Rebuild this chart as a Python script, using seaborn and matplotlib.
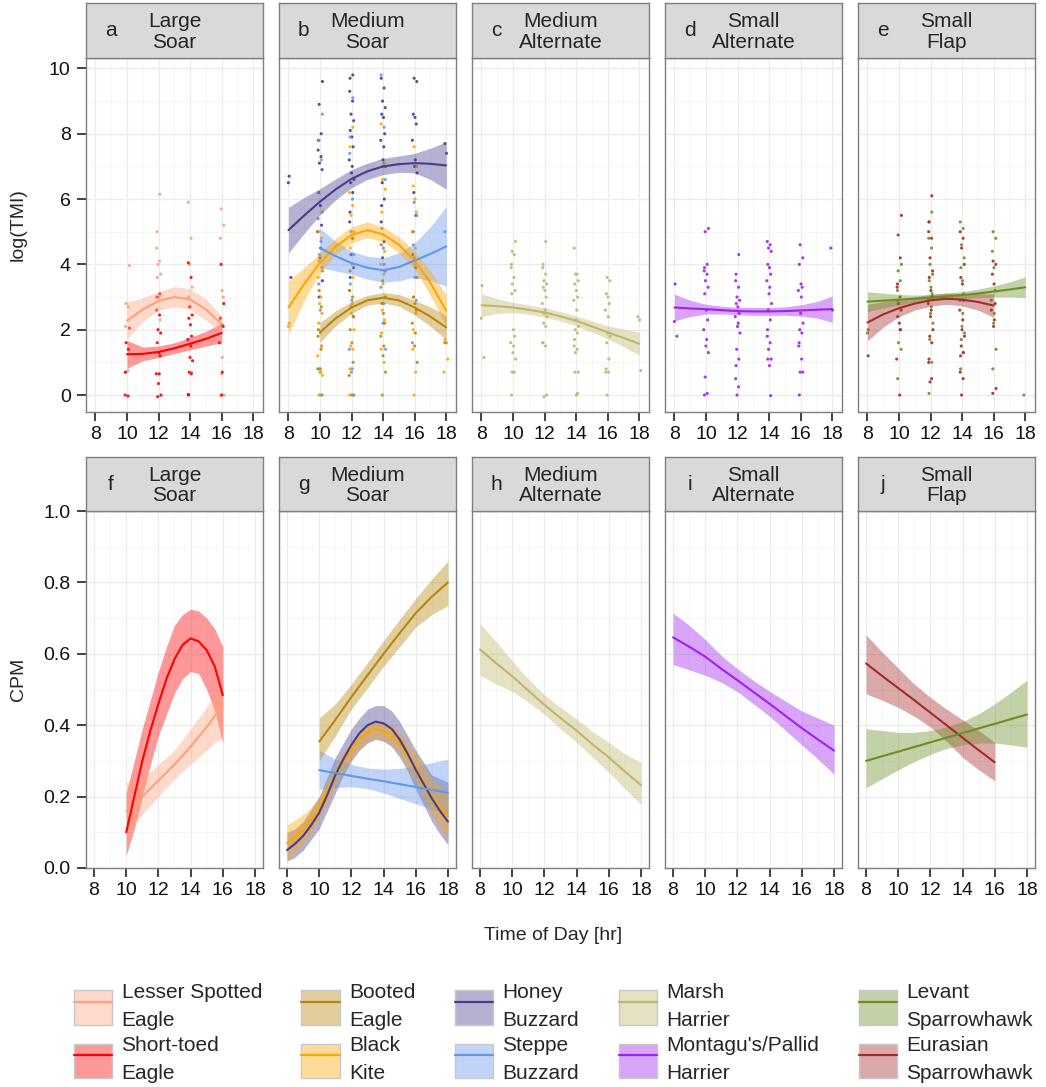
import numpy as np
import pandas as pd
import matplotlib
matplotlib.use("Agg")
import matplotlib.pyplot as plt
import seaborn as sns
from matplotlib.patches import Patch
from matplotlib.lines import Line2D
from matplotlib.colors import to_rgba

na = np.nan
HOURS = [8, 9, 10, 11, 12, 13, 14, 15, 16, 17, 18]

# species keys, legend labels and colours
SPECIES = ["LSE", "STE", "BE", "BK", "HB", "SB", "MH", "MP", "LS", "ES"]
LABELS = ["Lesser Spotted\nEagle", "Short-toed\nEagle", "Booted\nEagle", "Black\nKite",
          "Honey\nBuzzard", "Steppe\nBuzzard", "Marsh\nHarrier", "Montagu's/Pallid\nHarrier",
          "Levant\nSparrowhawk", "Eurasian\nSparrowhawk"]
COLORS = ["#FFA07A", "#FF0000", "#B8860B", "#FFA500", "#483D8B",
          "#6495ED", "#BDB76B", "#A020F0", "#6B8E23", "#A52A2A"]

# facets
PANEL_TITLES = ["Large\nSoar", "Medium\nSoar", "Medium\nAlternate", "Small\nAlternate", "Small\nFlap"]
TOP_LETTERS = ["a", "b", "c", "d", "e"]
BOTTOM_LETTERS = ["f", "g", "h", "i", "j"]
PANEL_SPECIES = [["STE", "LSE"], ["HB", "SB", "BK", "BE"], ["MH"], ["MP"], ["ES", "LS"]]

# log(TMI) smooth fits (hourly, NaN outside observed range)
TMI_FIT = {
    "LSE": [na, na, 2.28, 2.62, 2.88, 3.0, 2.93, 2.62, 2.17, na, na],
    "STE": [na, na, 1.25, 1.26, 1.32, 1.43, 1.57, 1.72, 1.9, na, na],
    "HB": [5.05, 5.5, 5.92, 6.3, 6.62, 6.85, 7.0, 7.07, 7.1, 7.08, 7.03],
    "BK": [2.68, 3.4, 4.05, 4.55, 4.9, 5.05, 4.92, 4.6, 4.12, 3.43, 2.58],
    "SB": [na, na, 4.5, 4.25, 4.04, 3.9, 3.82, 3.92, 4.12, 4.32, 4.55],
    "BE": [na, na, 1.92, 2.35, 2.68, 2.9, 2.98, 2.9, 2.68, 2.4, 2.07],
    "MH": [2.75, 2.72, 2.68, 2.61, 2.53, 2.41, 2.27, 2.1, 1.92, 1.75, 1.57],
    "MP": [2.68, 2.65, 2.63, 2.6, 2.57, 2.56, 2.56, 2.57, 2.59, 2.61, 2.63],
    "LS": [2.86, 2.89, 2.92, 2.95, 2.98, 3.02, 3.06, 3.11, 3.17, 3.23, 3.3],
    "ES": [2.22, 2.47, 2.66, 2.8, 2.9, 2.95, 2.92, 2.85, 2.74, na, na],
}
TMI_LO = {
    "LSE": [na, na, 1.72, 2.25, 2.6, 2.7, 2.62, 2.3, 1.92, na, na],
    "STE": [na, na, 0.82, 1.05, 1.15, 1.27, 1.38, 1.5, 1.6, na, na],
    "HB": [4.35, 4.95, 5.52, 5.98, 6.35, 6.6, 6.75, 6.82, 6.8, 6.6, 6.3],
    "BK": [1.85, 2.9, 3.75, 4.3, 4.65, 4.82, 4.7, 4.35, 3.85, 3.05, 2.1],
    "SB": [na, na, 3.9, 3.8, 3.7, 3.55, 3.45, 3.5, 3.6, 3.5, 3.33],
    "BE": [na, na, 1.62, 2.12, 2.5, 2.75, 2.82, 2.72, 2.45, 2.1, 1.7],
    "MH": [2.4, 2.5, 2.52, 2.47, 2.38, 2.27, 2.12, 1.93, 1.72, 1.48, 1.22],
    "MP": [2.27, 2.4, 2.48, 2.48, 2.46, 2.44, 2.44, 2.44, 2.42, 2.36, 2.23],
    "LS": [2.56, 2.66, 2.76, 2.84, 2.88, 2.92, 2.95, 2.98, 3.0, 3.0, 2.98],
    "ES": [1.66, 2.08, 2.4, 2.6, 2.72, 2.78, 2.73, 2.6, 2.38, na, na],
}
TMI_HI = {
    "LSE": [na, na, 2.84, 2.98, 3.16, 3.32, 3.25, 2.95, 2.42, na, na],
    "STE": [na, na, 1.67, 1.47, 1.5, 1.6, 1.76, 1.95, 2.2, na, na],
    "HB": [5.75, 6.05, 6.32, 6.62, 6.9, 7.1, 7.25, 7.32, 7.4, 7.56, 7.75],
    "BK": [3.5, 3.9, 4.35, 4.8, 5.15, 5.3, 5.15, 4.85, 4.4, 3.8, 3.05],
    "SB": [na, na, 5.1, 4.7, 4.4, 4.25, 4.2, 4.35, 4.65, 5.15, 5.77],
    "BE": [na, na, 2.22, 2.58, 2.86, 3.05, 3.14, 3.08, 2.9, 2.7, 2.44],
    "MH": [3.1, 2.95, 2.84, 2.75, 2.68, 2.55, 2.42, 2.27, 2.12, 2.02, 1.92],
    "MP": [3.09, 2.9, 2.78, 2.72, 2.68, 2.68, 2.68, 2.7, 2.76, 2.86, 3.03],
    "LS": [3.16, 3.12, 3.08, 3.06, 3.08, 3.12, 3.17, 3.24, 3.34, 3.46, 3.62],
    "ES": [2.78, 2.86, 2.92, 3.0, 3.08, 3.12, 3.11, 3.1, 3.1, na, na],
}

# CPM fits
CPM_FIT = {
    "LSE": [na, na, 0.16, 0.2, 0.245, 0.29, 0.34, 0.395, 0.455, na, na],
    "STE": [na, na, 0.1, 0.3, 0.46, 0.585, 0.643, 0.61, 0.484, na, na],
    "HB": [0.05, 0.09, 0.155, 0.26, 0.345, 0.4, 0.405, 0.36, 0.275, 0.195, 0.13],
    "BK": [0.07, 0.11, 0.17, 0.26, 0.33, 0.38, 0.385, 0.35, 0.28, 0.2, 0.145],
    "SB": [na, na, 0.274, 0.266, 0.258, 0.25, 0.243, 0.235, 0.227, 0.219, 0.211],
    "BE": [na, na, 0.354, 0.415, 0.479, 0.54, 0.6, 0.658, 0.714, 0.76, 0.8],
    "MH": [0.612, 0.574, 0.537, 0.497, 0.457, 0.42, 0.385, 0.346, 0.31, 0.27, 0.232],
    "MP": [0.646, 0.62, 0.592, 0.558, 0.526, 0.493, 0.46, 0.426, 0.392, 0.36, 0.329],
    "LS": [0.3, 0.313, 0.326, 0.339, 0.352, 0.365, 0.378, 0.391, 0.404, 0.417, 0.43],
    "ES": [0.573, 0.538, 0.504, 0.47, 0.435, 0.4, 0.365, 0.33, 0.296, na, na],
}
CPM_LO = {
    "LSE": [na, na, 0.09, 0.15, 0.2, 0.25, 0.29, 0.33, 0.37, na, na],
    "STE": [na, na, 0.035, 0.2, 0.37, 0.49, 0.55, 0.5, 0.35, na, na],
    "HB": [0.02, 0.05, 0.11, 0.21, 0.3, 0.35, 0.355, 0.31, 0.22, 0.13, 0.065],
    "BK": [0.02, 0.07, 0.14, 0.23, 0.305, 0.355, 0.36, 0.32, 0.24, 0.15, 0.08],
    "SB": [na, na, 0.22, 0.225, 0.228, 0.222, 0.21, 0.195, 0.18, 0.165, 0.15],
    "BE": [na, na, 0.3, 0.37, 0.445, 0.505, 0.565, 0.62, 0.675, 0.71, 0.735],
    "MH": [0.54, 0.515, 0.495, 0.465, 0.43, 0.39, 0.352, 0.31, 0.268, 0.222, 0.178],
    "MP": [0.57, 0.555, 0.54, 0.52, 0.494, 0.46, 0.425, 0.385, 0.345, 0.305, 0.263],
    "LS": [0.225, 0.25, 0.275, 0.298, 0.318, 0.335, 0.345, 0.35, 0.35, 0.345, 0.338],
    "ES": [0.488, 0.47, 0.45, 0.425, 0.395, 0.355, 0.31, 0.275, 0.244, na, na],
}
CPM_HI = {
    "LSE": [na, na, 0.24, 0.25, 0.29, 0.33, 0.39, 0.45, 0.52, na, na],
    "STE": [na, na, 0.21, 0.39, 0.55, 0.68, 0.725, 0.7, 0.62, na, na],
    "HB": [0.1, 0.13, 0.2, 0.31, 0.39, 0.445, 0.455, 0.41, 0.33, 0.26, 0.24],
    "BK": [0.12, 0.15, 0.2, 0.29, 0.355, 0.405, 0.41, 0.38, 0.32, 0.25, 0.21],
    "SB": [na, na, 0.33, 0.305, 0.29, 0.28, 0.277, 0.279, 0.285, 0.295, 0.305],
    "BE": [na, na, 0.42, 0.46, 0.515, 0.575, 0.637, 0.697, 0.755, 0.81, 0.86],
    "MH": [0.684, 0.634, 0.58, 0.53, 0.485, 0.45, 0.418, 0.382, 0.352, 0.32, 0.295],
    "MP": [0.714, 0.68, 0.64, 0.595, 0.558, 0.525, 0.495, 0.467, 0.44, 0.42, 0.4],
    "LS": [0.39, 0.385, 0.38, 0.38, 0.385, 0.395, 0.41, 0.432, 0.46, 0.492, 0.526],
    "ES": [0.653, 0.605, 0.56, 0.515, 0.478, 0.445, 0.415, 0.385, 0.352, na, na],
}
# extra half-hour readings (fit, lo, hi) for the strongly curved CPM fits
CPM_HALF = {
    "STE": {10.5: (0.2, 0.11, 0.3), 11.5: (0.385, 0.29, 0.47), 12.5: (0.53, 0.43, 0.62),
            13.5: (0.625, 0.53, 0.71), 14.5: (0.635, 0.545, 0.72), 15.5: (0.565, 0.44, 0.67)},
    "HB": {8.5: (0.068, 0.03, 0.11), 9.5: (0.12, 0.08, 0.165), 10.5: (0.205, 0.16, 0.255),
           11.5: (0.305, 0.26, 0.35), 12.5: (0.378, 0.33, 0.42), 13.5: (0.41, 0.36, 0.455),
           14.5: (0.39, 0.34, 0.44), 15.5: (0.32, 0.27, 0.37), 16.5: (0.235, 0.175, 0.295),
           17.5: (0.16, 0.095, 0.25)},
    "BK": {8.5: (0.088, 0.045, 0.135), 9.5: (0.135, 0.1, 0.17), 10.5: (0.215, 0.185, 0.245),
           11.5: (0.3, 0.27, 0.325), 12.5: (0.36, 0.335, 0.385), 13.5: (0.39, 0.365, 0.415),
           14.5: (0.37, 0.345, 0.4), 15.5: (0.315, 0.28, 0.35), 16.5: (0.24, 0.195, 0.285),
           17.5: (0.17, 0.115, 0.23)},
}

TMI_POINTS = {
    "LSE": {10: [3.96, 2.8, 2.7, 2.1, 0.7, 0.75],
            12: [6.15, 5.0, 4.5, 4.1, 4.0, 3.7, 3.6, 3.0, 2.3],
            14: [5.9, 4.8, 4.0, 3.3, 3.0, 2.7, 0.7],
            16: [5.7, 5.2, 4.8, 3.2, 3.0, 2.3, 1.15, 0.65, 0.0, -0.02]},
    "STE": {10: [2.05, 1.6, 1.4, 0.7, 0.0, -0.03],
            12: [3.1, 3.0, 2.6, 2.45, 2.0, 1.9, 1.6, 1.3, 1.2, 0.65, 0.65, 0.35, 0.0, -0.05],
            14: [4.05, 3.6, 2.7, 2.45, 2.35, 2.15, 1.8, 1.7, 1.5, 1.15, 1.05, 0.7, 0.65, 0.0, 0.02],
            16: [4.0, 2.8, 2.35, 2.15, 2.1, 1.6, 0.7, 0.0]},
    "HB": {8: [6.7, 6.5, 3.6],
           10: [9.6, 8.9, 8.0, 7.8, 7.5, 7.3, 7.1, 6.9, 6.2, 5.8, 5.2, 5.0, 4.5, 4.2, 3.5, 3.0],
           12: [9.8, 9.7, 9.3, 9.0, 8.6, 8.4, 8.1, 7.9, 7.6, 7.2, 7.0, 6.8, 6.6, 6.5, 6.2,
                5.6, 5.3, 4.8, 4.3, 3.9, 3.6],
           14: [9.7, 9.4, 9.0, 8.8, 8.6, 8.5, 8.0, 7.8, 7.6, 7.2, 7.0, 6.5, 6.0, 5.8, 5.3,
                4.7, 4.2, 3.8],
           16: [9.7, 9.6, 8.6, 8.5, 8.3, 7.8, 7.2, 7.0, 6.8, 6.2, 5.5, 5.0, 4.3, 3.9],
           18: [7.7, 7.4]},
    "SB": {10: [8.6, 7.8, 7.2, 6.2, 5.4, 4.7, 4.3, 3.9, 3.4, 2.6, 1.5, 0.8, 0.7, 0.0],
           12: [9.1, 7.9, 7.4, 6.0, 5.0, 4.3, 3.4, 2.9, 2.4, 1.4, 0.8, 0.7, 0.0],
           14: [9.8, 8.2, 7.0, 6.6, 5.1, 4.5, 3.8, 3.3, 2.8, 2.2, 1.4, 0.0],
           16: [5.9, 5.5, 4.6, 3.6, 2.9, 1.6],
           18: [5.0]},
    "BK": {8: [2.2, 2.1],
           10: [5.6, 5.0, 4.8, 4.1, 3.6, 3.0, 2.8, 2.5, 2.2, 1.9, 1.5, 1.2, 0.8, 0.7, 0.6, 0.0],
           12: [8.2, 7.6, 6.2, 5.8, 5.5, 5.0, 4.5, 4.0, 3.6, 3.2, 2.8, 2.5, 2.0, 1.5, 1.4, 0.8, 0.0],
           14: [8.3, 7.1, 6.6, 6.3, 5.6, 4.9, 4.4, 4.0, 3.7, 3.4, 3.0, 2.6, 2.3, 1.9, 1.4, 1.0, 0.0],
           16: [7.6, 7.0, 6.4, 6.0, 5.6, 5.0, 4.5, 4.0, 3.6, 3.0, 2.5, 2.0, 1.4, 0.7, 0.0],
           18: [1.7, 1.6, 1.1, 0.7]},
    "BE": {10: [3.8, 3.2, 2.7, 2.0, 1.8, 1.4, 0.8, 0.0],
           12: [4.8, 3.8, 3.2, 3.0, 2.7, 2.4, 2.0, 1.6, 1.0, 0.6, 0.0],
           14: [4.6, 4.0, 3.5, 3.0, 2.8, 2.5, 2.2, 1.8, 1.5, 1.2, 0.7],
           16: [4.2, 3.6, 3.0, 2.8, 2.6, 2.2, 1.9, 1.5, 1.0],
           18: [1.6]},
    "MH": {8: [3.35, 2.35, 1.15],
           10: [4.7, 4.4, 4.3, 4.0, 3.9, 3.6, 3.4, 3.2, 3.1, 2.0, 1.8, 1.6, 1.5, 1.3, 1.1, 0.7, 0.7, 0.0],
           12: [4.7, 4.0, 3.9, 3.7, 3.5, 3.4, 3.3, 3.2, 3.0, 2.8, 2.6, 2.5, 2.4, 2.2, 2.1,
                1.6, 1.6, 1.5, -0.05, 0.0],
           14: [4.5, 3.7, 3.7, 3.5, 3.4, 3.2, 3.0, 2.9, 2.6, 2.3, 2.1, 2.0, 1.9, 1.7, 1.5,
                1.4, 1.3, 0.7, 0.7, 0.0, 0.05],
           16: [3.6, 3.5, 3.1, 3.0, 2.8, 2.6, 2.4, 1.9, 1.8, 1.6, 1.1, 0.8, 0.7, 0.7, 0.0],
           18: [2.4, 2.3, 0.75]},
    "MP": {8: [3.4, 2.25, 1.8],
           10: [5.1, 5.0, 4.0, 3.9, 3.8, 3.7, 3.5, 3.3, 3.1, 2.6, 2.3, 2.0, 1.7, 1.5, 1.3, 0.55, 0.05, 0.0],
           12: [4.3, 3.7, 3.5, 3.3, 3.0, 2.9, 2.8, 2.7, 2.5, 2.4, 2.2, 2.1, 1.9, 1.4, 1.1,
                0.9, 0.5, 0.25, 0.0],
           14: [4.7, 4.6, 4.5, 4.4, 4.0, 3.9, 3.7, 3.5, 3.3, 3.1, 2.8, 2.6, 2.3, 2.0, 1.8,
                1.6, 1.4, 1.1, 1.1, 0.9, -0.02],
           16: [4.6, 4.2, 4.0, 3.4, 3.3, 3.2, 3.0, 2.5, 2.2, 2.0, 1.9, 1.6, 1.5, 1.1, 0.7, 0.7, 0.0],
           18: [4.5, 2.6]},
    "LS": {8: [2.0, 1.9],
           10: [4.0, 3.8, 3.5, 3.2, 2.9, 2.0, 1.6, 1.4, 0.5],
           12: [5.6, 5.3, 4.8, 4.5, 4.0, 3.7, 3.5, 3.3, 3.1, 2.9, 2.7, 2.5, 2.2, 1.7, 1.0, 0.05],
           14: [5.3, 5.1, 4.6, 4.2, 3.9, 3.5, 3.1, 2.9, 2.5, 2.1, 1.9, 1.7, 1.3, 0.8],
           16: [5.0, 4.8, 4.4, 3.9, 3.2, 2.9, 2.5, 2.2, 1.4, 0.8],
           18: [0.0]},
    "ES": {8: [1.2],
           10: [5.5, 4.9, 4.2, 3.4, 3.3, 3.0, 2.8, 2.6, 2.4, 2.2, 2.0, 1.1, 0.0],
           12: [6.1, 5.3, 5.0, 4.8, 4.2, 3.8, 3.6, 3.2, 3.0, 2.8, 2.6, 2.4, 2.0, 1.8, 1.6,
                1.1, 1.0, 0.5, 0.4],
           14: [5.0, 4.8, 4.5, 4.0, 3.6, 3.4, 2.9, 2.6, 2.3, 2.0, 1.8, 1.5, 1.3, 1.2, 0.7, 0.5, 0.0],
           16: [4.1, 4.0, 3.7, 3.4, 2.8, 2.6, 2.3, 2.1, 0.2, 0.05]},
}

# ---------------------------------------------------------------------------
palette = dict(zip(SPECIES, COLORS))

rows = []
for metric, fit, lo, hi in [("tmi", TMI_FIT, TMI_LO, TMI_HI), ("cpm", CPM_FIT, CPM_LO, CPM_HI)]:
    for sp in SPECIES:
        for h, f, l, u in zip(HOURS, fit[sp], lo[sp], hi[sp]):
            if not np.isnan(f):
                rows.append(dict(metric=metric, sp=sp, hour=h, fit=f, lo=l, hi=u))
for sp, extra in CPM_HALF.items():
    for h, (f, l, u) in extra.items():
        rows.append(dict(metric="cpm", sp=sp, hour=h, fit=f, lo=l, hi=u))
curves = pd.DataFrame(rows).sort_values(["metric", "sp", "hour"])

# small horizontal jitter so points at the same hour do not overlap
jit = 0.7 * np.array([-0.17, 0.09, -0.05, 0.19, -0.12, 0.03, 0.14, -0.21, 0.06, -0.01, 0.22, -0.08, 0.11, -0.14])
prow = []
for sp, by_hour in TMI_POINTS.items():
    for h, vals in by_hour.items():
        for i, v in enumerate(vals):
            prow.append(dict(sp=sp, hour=h + jit[(i + h) % len(jit)], val=v))
points = pd.DataFrame(prow)

sns.set_theme(style="white")
plt.rcParams["font.family"] = ["Liberation Sans", "DejaVu Sans"]

W, H = 1046, 1087
fig = plt.figure(figsize=(W / 100, H / 100), dpi=100)

LEFTS = [86, 279, 472, 665, 858]
PW = 177
ROWS = [dict(metric="tmi", top=58, h=354, strip=55, letters=TOP_LETTERS,
             ylim=(-0.52, 10.32), yt=np.arange(0, 11, 2), ym=np.arange(1, 11, 2),
             xlim=(7.4, 18.62), fmt="{:.0f}", ylabel="log(TMI)"),
        dict(metric="cpm", top=511, h=357, strip=54, letters=BOTTOM_LETTERS,
             ylim=(0, 1), yt=np.arange(0, 1.01, 0.2), ym=np.arange(0.1, 1.0, 0.2),
             xlim=(7.5, 18.5), fmt="{:.1f}", ylabel="CPM")]

for r in ROWS:
    for j, left in enumerate(LEFTS):
        ax = fig.add_axes([left / W, 1 - (r["top"] + r["h"]) / H, PW / W, r["h"] / H])
        sps = PANEL_SPECIES[j]
        if r["metric"] == "tmi":
            sub = points[points.sp.isin(sps)]
            sns.scatterplot(data=sub, x="hour", y="val", hue="sp", palette=palette,
                            s=5, linewidth=0, alpha=0.9, legend=False, ax=ax, zorder=2)
        cv = curves[(curves.metric == r["metric"]) & (curves.sp.isin(sps))]
        for sp in sps:
            d = cv[cv.sp == sp]
            ax.fill_between(d.hour, d.lo, d.hi, color=palette[sp], alpha=0.4, lw=0, zorder=3)
        sns.lineplot(data=cv, x="hour", y="fit", hue="sp", palette=palette, lw=1.5,
                     estimator=None, legend=False, ax=ax, zorder=4)

        ax.set_xlim(*r["xlim"])
        ax.set_ylim(*r["ylim"])
        ax.set_xticks(range(8, 19, 2))
        ax.set_xticks(range(9, 19, 2), minor=True)
        ax.set_yticks(r["yt"])
        ax.set_yticks(r["ym"], minor=True)
        ax.grid(True, which="major", color="#EBEBEB", lw=0.9, zorder=0)
        ax.grid(True, which="minor", color="#F5F5F5", lw=0.6, zorder=0)
        ax.set_axisbelow(True)
        ax.set_xlabel("")
        ax.set_ylabel("")
        for s in ax.spines.values():
            s.set_color("#7F7F7F")
            s.set_linewidth(1.0)
        ax.tick_params(axis="x", which="major", length=6.5, width=1.3, color="#333333",
                       labelsize=14, labelcolor="#111111", pad=3.5, direction="out", bottom=True)
        ax.tick_params(which="minor", length=0)
        if j == 0:
            ax.set_yticklabels([r["fmt"].format(v) for v in r["yt"]])
            ax.tick_params(axis="y", which="major", length=6.5, width=1.3, color="#333333",
                           labelsize=14, labelcolor="#111111", pad=4.5, direction="out", left=True)
        else:
            ax.tick_params(axis="y", which="major", left=False, labelleft=False)

        # facet strip
        sax = fig.add_axes([left / W, 1 - r["top"] / H, PW / W, r["strip"] / H])
        sax.set_facecolor("#D9D9D9")
        sax.set_xticks([])
        sax.set_yticks([])
        for s in sax.spines.values():
            s.set_color("#7F7F7F")
            s.set_linewidth(1.0)
        sax.text(0.14, 0.5, r["letters"][j], ha="center", va="center", fontsize=15,
                 transform=sax.transAxes)
        sax.text(0.5, 0.47, PANEL_TITLES[j], ha="center", va="center", fontsize=15,
                 linespacing=1.1, transform=sax.transAxes)

    fig.text(18 / W, 1 - (r["top"] + r["h"] / 2 - 10) / H, r["ylabel"], rotation=90,
             ha="center", va="center", fontsize=14)

fig.text(553 / W, 1 - 935 / H, "Time of Day [hr]", ha="center", va="center", fontsize=14)

handles = [(Patch(facecolor=to_rgba(c, 0.4), edgecolor="#C8C8C8", lw=1),
            Line2D([], [], color=c, lw=1.6)) for c in COLORS]
leg = fig.legend(handles, LABELS, ncol=5, loc="upper left",
                 bbox_to_anchor=(74 / W, 1 - 983 / H), frameon=False, fontsize=15,
                 handlelength=1.83, handleheight=2.16, handletextpad=0.45,
                 labelspacing=0.3, columnspacing=1.9, borderpad=0, borderaxespad=0)
for t in leg.get_texts():
    t.set_linespacing(1.6)

fig.savefig("out.png", dpi=100)
